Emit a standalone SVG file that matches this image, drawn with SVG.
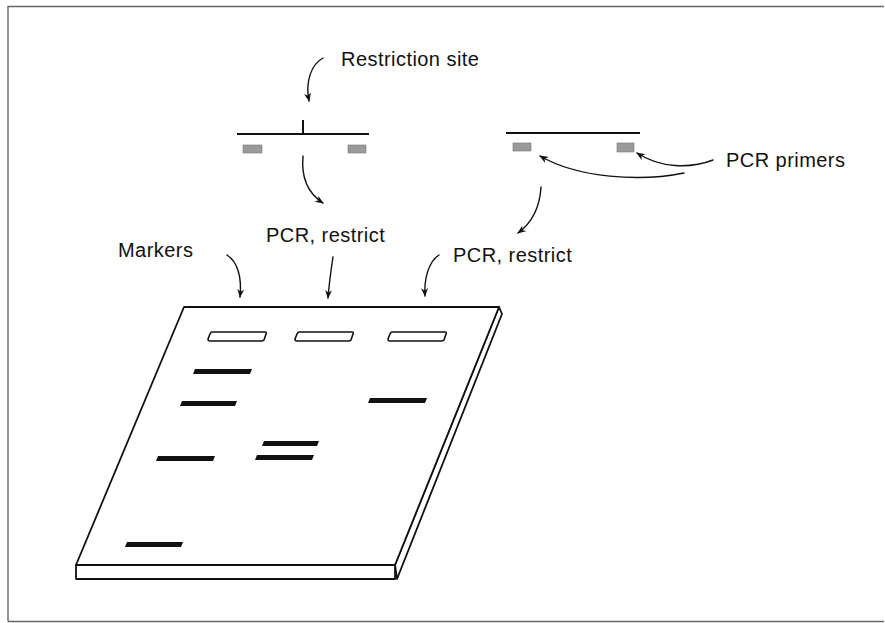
<svg xmlns="http://www.w3.org/2000/svg" width="885" height="623" viewBox="0 0 885 623">
  <style>
    .lbl { font-family: "Liberation Sans", Arial, sans-serif; font-size: 20px; letter-spacing: 0.45px; fill: #111; }
    .arrow { fill: none; stroke: #111; stroke-width: 1.4; stroke-linecap: round; marker-end: url(#head); }
    .gel { fill: #fff; stroke: #111; stroke-width: 1.8; stroke-linejoin: round; }
    .well { fill: #fff; stroke: #111; stroke-width: 1.6; stroke-linejoin: round; }
    .band { fill: #111; }
    .dna { stroke: #111; stroke-width: 2; }
    .primer { fill: #9a9a9a; stroke: #777; stroke-width: 0.6; }
    .frame { stroke: #666; stroke-width: 1.4; fill: none; }
  </style>
  <defs>
    <marker id="head" viewBox="0 0 10 8" refX="9" refY="4" markerWidth="9" markerHeight="7" markerUnits="userSpaceOnUse" orient="auto">
      <path d="M0,0 L10,4 L0,8 L3,4 z" fill="#111"/>
    </marker>
  </defs>

  <rect width="885" height="623" fill="#fff"/>

  <!-- page frame -->
  <path class="frame" d="M8,621.5 L8,6.5 L884,6.5 M8,621.5 L884,621.5"/>

  <!-- template DNA with restriction site -->
  <g id="dna-left">
    <line class="dna" x1="237" y1="134" x2="369" y2="134"/>
    <line class="dna" x1="303" y1="120" x2="303" y2="134"/>
    <rect class="primer" x="243" y="145" width="19" height="8"/>
    <rect class="primer" x="348" y="145" width="18" height="8"/>
  </g>

  <!-- template DNA without site -->
  <g id="dna-right">
    <line class="dna" x1="506" y1="133" x2="640" y2="133"/>
    <rect class="primer" x="513" y="143" width="18" height="8"/>
    <rect class="primer" x="617" y="143" width="17" height="9"/>
  </g>

  <!-- labels -->
  <g id="label-site"><text class="lbl" x="341" y="66">Restriction site</text></g>
  <g id="label-primers"><text class="lbl" x="726" y="167">PCR primers</text></g>
  <g id="label-pcr1"><text class="lbl" x="266" y="242">PCR, restrict</text></g>
  <g id="label-pcr2"><text class="lbl" x="453" y="262">PCR, restrict</text></g>
  <g id="label-markers"><text class="lbl" x="118" y="257">Markers</text></g>

  <!-- agarose gel slab -->
  <g id="gel">
    <polygon class="gel" points="395,565 499,307 502,314 397,579"/>
    <rect class="gel" x="76" y="565" width="319" height="14"/>
    <polygon class="gel" points="184,307 499,307 395,565 76,565"/>

    <!-- loading wells -->
    <path class="well" d="M212,332 L265,332 Q267,332 266,334 L264,340 Q263,341 261,341 L210,341 Q208,341 208,339 L210,334 Q211,332 212,332 z"/>
    <path class="well" d="M299,332 L352,332 Q354,332 353,334 L351,340 Q350,341 348,341 L297,341 Q295,341 295,339 L297,334 Q298,332 299,332 z"/>
    <path class="well" d="M392,332 L445,332 Q447,332 446,334 L444,340 Q443,341 441,341 L390,341 Q388,341 388,339 L390,334 Q391,332 392,332 z"/>

    <!-- marker lane -->
    <polygon class="band" points="195,369 252,369 250,374 193,374"/>
    <polygon class="band" points="182,401 237,401 235,406 180,406"/>
    <polygon class="band" points="158,456 215,456 213,461 156,461"/>
    <polygon class="band" points="127,542 183,542 181,547 125,547"/>

    <!-- lane 2: cut product -->
    <polygon class="band" points="264,441 319,441 317,446 262,446"/>
    <polygon class="band" points="257,455 314,455 312,460 255,460"/>

    <!-- lane 3: uncut product -->
    <polygon class="band" points="370,398 427,398 425,403 368,403"/>
  </g>

  <!-- connectors -->
  <g id="connectors">
    <path class="arrow" d="M323,58 C312,64 305,80 309,101"/>
    <path class="arrow" d="M303,156 C301,178 309,194 323,203"/>
    <path class="arrow" d="M541,187 C540,205 533,222 518,233"/>
    <path class="arrow" d="M713,160 C690,169 660,168 637,153"/>
    <path class="arrow" d="M684,173 C640,182 578,178 540,156"/>
    <path class="arrow" d="M227,255 C238,262 242,278 240,297"/>
    <path class="arrow" d="M333,257 C331,270 329,285 328,298"/>
    <path class="arrow" d="M439,255 C428,262 424,280 425,296"/>
  </g>
</svg>
